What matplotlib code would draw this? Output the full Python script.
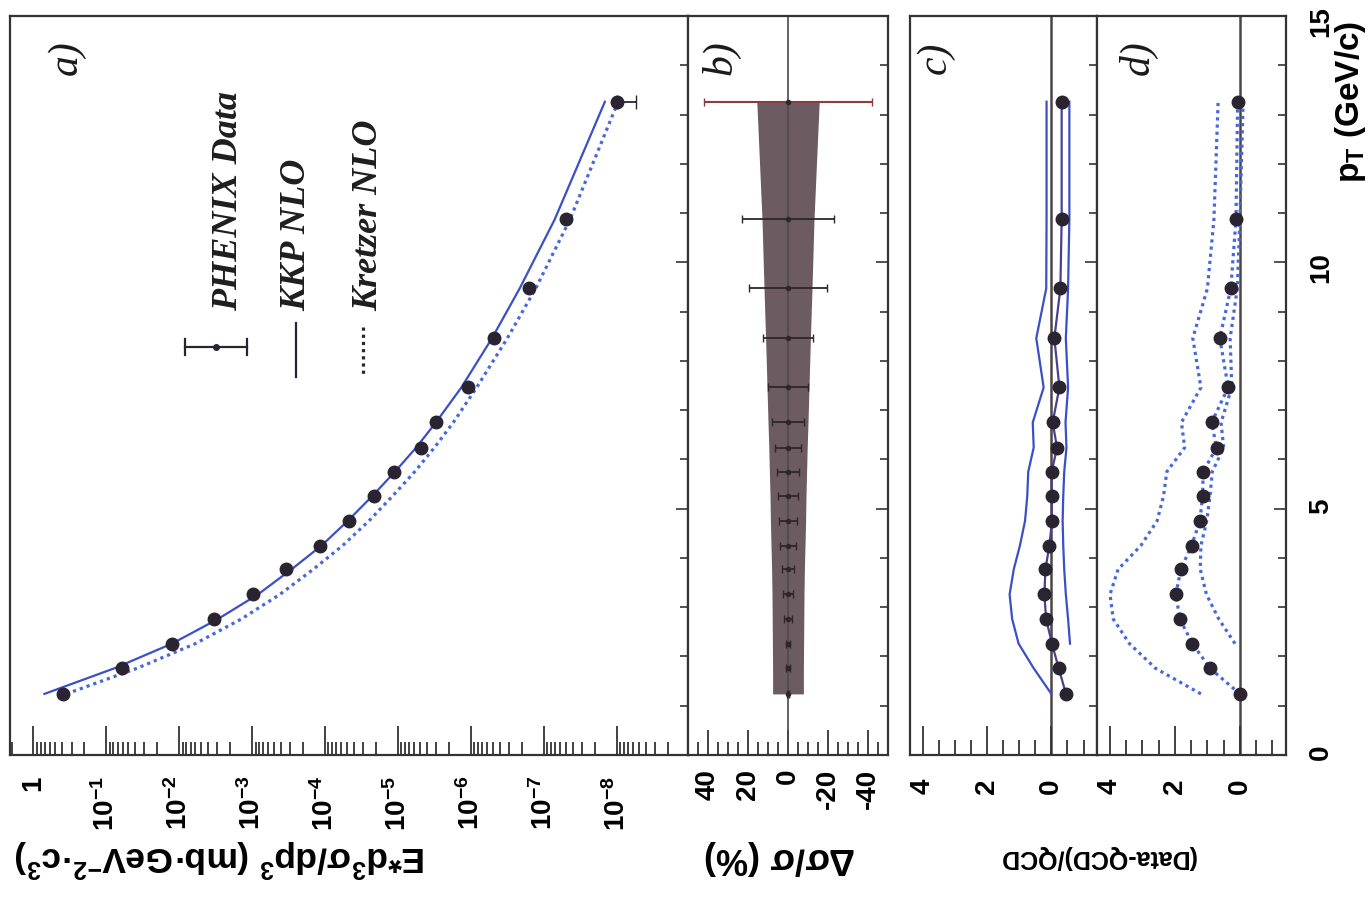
import numpy as np
import matplotlib
matplotlib.use("Agg")
import matplotlib.pyplot as plt
from matplotlib.ticker import (LogLocator, NullFormatter, MultipleLocator,
                               FixedLocator, FuncFormatter)
from matplotlib.lines import Line2D

plt.rcParams['font.family'] = ['Liberation Sans', 'DejaVu Sans']
plt.rcParams['font.weight'] = 'bold'
plt.rcParams['mathtext.fontset'] = 'custom'
plt.rcParams['mathtext.rm'] = 'Liberation Sans:bold'
plt.rcParams['mathtext.it'] = 'Liberation Sans:italic:bold'
plt.rcParams['mathtext.bf'] = 'Liberation Sans:bold'
plt.rcParams['mathtext.default'] = 'rm'

# ---------------- data ----------------
pt = [1.24, 1.76, 2.26, 2.76, 3.26, 3.77, 4.25, 4.75, 5.26, 5.75,
      6.24, 6.75, 7.46, 8.46, 9.47, 10.87, 13.26]

# panel a: invariant cross section (mb GeV^-2 c^3)
sigma_data = [3.89e-1, 6.03e-2, 1.24e-2, 3.34e-3, 9.77e-4, 3.43e-4, 1.16e-4,
              4.75e-5, 2.16e-5, 1.13e-5, 4.90e-6, 3.02e-6, 1.08e-6, 4.83e-7,
              1.59e-7, 4.90e-8, 9.84e-9]
sigma_kkp = [7.08e-1, 7.76e-2, 1.26e-2, 2.95e-3, 8.32e-4, 2.88e-4, 1.12e-4,
             4.90e-5, 2.24e-5, 1.10e-5, 5.62e-6, 3.02e-6, 1.35e-6, 5.13e-7,
             2.14e-7, 7.08e-8, 1.45e-8]
sigma_kretzer = [3.55e-1, 3.80e-2, 6.03e-3, 1.41e-3, 4.17e-4, 1.45e-4, 5.75e-5,
                 2.51e-5, 1.18e-5, 5.89e-6, 3.16e-6, 1.74e-6, 8.32e-7, 3.16e-7,
                 1.29e-7, 4.37e-8, 9.55e-9]
last_err_low = 4.4e-9

# panel b: relative errors (%)
sys_err = [7.7, 7.7, 7.8, 7.9, 8.0, 8.2, 8.5, 8.8, 9.0, 9.3, 9.6, 10.0,
           10.5, 11.2, 12.0, 13.0, 15.6]
stat_err = [0.5, 0.8, 1.2, 1.8, 2.5, 3.2, 3.8, 4.5, 5.0, 5.5, 6.5, 8.0,
            9.8, 12.5, 19.6, 22.8, 42.0]

# panel c: (Data-QCD)/QCD with KKP
c_data = [-0.455, -0.227, -0.02, 0.165, 0.217, 0.186, 0.062, -0.02, -0.01,
          -0.01, -0.176, -0.04, -0.25, -0.093, -0.28, -0.32, -0.32]
c_upper = [0.0, 0.55, 1.02, 1.22, 1.30, 1.17, 0.98, 0.82, 0.75, 0.72, 0.55,
           0.58, 0.24, 0.47, 0.16, 0.15, 0.15]
c_lower = [-0.58, -0.52, -0.45, -0.40, -0.37, -0.35, -0.37, -0.40, -0.47,
           -0.44, -0.52, -0.45, -0.52, -0.56, -0.56]

# panel d: (Data-QCD)/QCD with Kretzer
d_data = [0.0, 0.92, 1.46, 1.85, 1.97, 1.82, 1.49, 1.23, 1.15, 1.13, 0.72,
          0.87, 0.36, 0.62, 0.28, 0.12, 0.07]
d_upper = [1.2, 2.6, 3.4, 3.9, 4.0, 3.75, 3.05, 2.55, 2.35, 2.25, 1.7, 1.8,
           1.2, 1.45, 1.0, 0.8, 0.67]
d_lower = [0.15, 0.65, 1.03, 1.22, 1.2, 1.02, 0.92, 0.85, 0.5, 0.58, 0.25,
           0.3, 0.08, 0.0, -0.1]

a_ticks = [1, 1e-1, 1e-2, 1e-3, 1e-4, 1e-5, 1e-6, 1e-7, 1e-8]
b_ticks = [40, 20, 0, -20, -40]
cd_ticks = [4, 2, 0]
pt_ticks = [0, 5, 10, 15]

# ---------------- styling ----------------
W, H = 1368, 899
BLUE = '#3b4fc6'
BLUE_DOT = '#4768d8'
DARK = '#2a2430'
FRAME = '#333333'
DOTS = (0, (1.0, 1.25))

fig = plt.figure(figsize=(W / 100, H / 100), dpi=100)


def box(x0, x1, y0=16, y1=755):
    return [x0 / W, 1 - y1 / H, (x1 - x0) / W, (y1 - y0) / H]


def fpx(x, y):
    return x / W, 1 - y / H


ax_a = fig.add_axes(box(10, 688))
ax_b = fig.add_axes(box(688, 888))
ax_c = fig.add_axes(box(910, 1097))
ax_d = fig.add_axes(box(1097, 1286))

for ax in (ax_a, ax_b, ax_c, ax_d):
    ax.set_ylim(0, 15)
    for s in ax.spines.values():
        s.set_color(FRAME)
        s.set_linewidth(1.6)
    ax.yaxis.set_major_locator(FixedLocator(pt_ticks))
    ax.yaxis.set_minor_locator(MultipleLocator(1))
    ax.tick_params(axis='y', which='both', direction='in', left=False,
                   right=True, labelleft=False, labelright=False,
                   color=FRAME, width=1.2)
    ax.tick_params(axis='y', which='major', length=9)
    ax.tick_params(axis='y', which='minor', length=6)
    ax.tick_params(axis='x', which='both', direction='in', top=False,
                   bottom=True, color=FRAME, width=1.3, labelrotation=90,
                   labelsize=20)

# ---------------- panel a ----------------
ax_a.set_xscale('log')
ax_a.set_xlim(2.1, 1.05e-9)
ax_a.xaxis.set_major_locator(FixedLocator(a_ticks))
ax_a.xaxis.set_major_formatter(FuncFormatter(
    lambda v, p: '1' if abs(v - 1) < 1e-9 else r'$10^{%d}$' % round(np.log10(v))))
ax_a.xaxis.set_minor_locator(LogLocator(base=10, subs=np.arange(2, 10), numticks=20))
ax_a.xaxis.set_minor_formatter(NullFormatter())
ax_a.tick_params(axis='x', which='major', length=21, pad=15)
ax_a.tick_params(axis='x', which='minor', length=9.5)

ax_a.plot(sigma_kkp, pt, color=BLUE, lw=1.6, zorder=3)
ax_a.plot(sigma_kretzer, pt, color=BLUE_DOT, lw=2.3, ls=DOTS, zorder=3)
ax_a.plot(sigma_data, pt, 'o', color=DARK, ms=9, zorder=4)
ax_a.errorbar([sigma_data[-1]], [pt[-1]], xerr=[[last_err_low], [0]],
              fmt='none', ecolor=DARK, elinewidth=1.3, capsize=5, zorder=3)

# legend (drawn by hand, rotated like the figure)
tr = fig.transFigure
x0, y0 = fpx(185, 347)
x1, y1 = fpx(247, 347)
fig.add_artist(Line2D([x0, x1], [y0, y1], transform=tr, color=DARK, lw=1.6))
for xx in (185, 247):
    a0, b0 = fpx(xx, 339)
    a1, b1 = fpx(xx, 355)
    fig.add_artist(Line2D([a0, a1], [b0, b1], transform=tr, color=DARK, lw=1.6))
mx, my = fpx(216, 347)
fig.add_artist(Line2D([mx], [my], transform=tr, marker='o', ms=4, color=DARK))
a0, b0 = fpx(296, 323)
a1, b1 = fpx(296, 377)
fig.add_artist(Line2D([a0, a1], [b0, b1], transform=tr, color=DARK, lw=1.6))
a0, b0 = fpx(363, 327)
a1, b1 = fpx(363, 377)
fig.add_artist(Line2D([a0, a1], [b0, b1], transform=tr, color=DARK, lw=2.3, ls=DOTS))

leg_kw = dict(rotation=90, ha='center', va='bottom', family='Liberation Serif',
              style='italic', weight='bold', fontsize=26, color='#1e1e1e')
fig.text(*fpx(229, 311), 'PHENIX Data', **leg_kw)
fig.text(*fpx(297, 311), 'KKP NLO', **leg_kw)
fig.text(*fpx(369, 311), 'Kretzer NLO', **leg_kw)

# ---------------- panel b ----------------
ax_b.set_xlim(50, -50)
ax_b.xaxis.set_major_locator(FixedLocator(b_ticks))
ax_b.xaxis.set_minor_locator(MultipleLocator(5))
ax_b.xaxis.set_major_formatter(FuncFormatter(lambda v, p: '%d' % v))
ax_b.tick_params(axis='x', which='major', length=18, pad=10)
ax_b.tick_params(axis='x', which='minor', length=9.5)
sys_arr = np.array(sys_err)
ax_b.fill_betweenx(pt, -sys_arr, sys_arr, color='#6c5c61', lw=0, zorder=1)
ax_b.axvline(0, color='#4a4a4a', lw=1.2, zorder=2)
zeros = np.zeros(len(pt))
ax_b.errorbar(zeros[:-1], pt[:-1], xerr=stat_err[:-1], fmt='o', ms=3,
              color='#2e2628', ecolor='#2e2628', elinewidth=1.3, capsize=3,
              zorder=3)
ax_b.errorbar(zeros[-1:], pt[-1:], xerr=stat_err[-1:], fmt='o', ms=3,
              color='#2e2628', ecolor='#8e3a42', elinewidth=1.5, capsize=3,
              zorder=3)

# ---------------- panels c and d ----------------
for ax in (ax_c, ax_d):
    ax.set_xlim(4.4, -1.42)
    ax.xaxis.set_major_locator(FixedLocator(cd_ticks))
    ax.xaxis.set_minor_locator(MultipleLocator(0.5))
    ax.xaxis.set_major_formatter(FuncFormatter(lambda v, p: '%d' % v))
    ax.tick_params(axis='x', which='major', length=21, pad=17)
    ax.tick_params(axis='x', which='minor', length=11)
    ax.axvline(0, color='#4d4545', lw=1.8, zorder=1)

ax_c.plot(c_upper, pt, color=BLUE, lw=1.6, zorder=2)
ax_c.plot(c_lower, pt[2:], color=BLUE, lw=1.6, zorder=2)
ax_c.plot(c_data, pt, color='#4a3f90', lw=1.6, zorder=3)
ax_c.plot(c_data, pt, 'o', color=DARK, ms=9, zorder=4)

ax_d.plot(d_upper, pt, color=BLUE_DOT, lw=2.3, ls=DOTS, zorder=2)
ax_d.plot(d_lower, pt[2:], color=BLUE_DOT, lw=2.3, ls=DOTS, zorder=2)
ax_d.plot(d_data, pt, color=BLUE_DOT, lw=2.3, ls=DOTS, zorder=3)
ax_d.plot(d_data, pt, 'o', color=DARK, ms=9, zorder=4)

ax_d.tick_params(axis='y', which='major', labelright=True, labelrotation=90,
                 labelsize=20, pad=16)

# ---------------- panel tags and axis titles ----------------
tag_kw = dict(rotation=90, ha='center', va='center', family='Liberation Serif',
              style='italic', fontsize=30, weight='normal', color='#1a1a1a')
fig.text(*fpx(67, 58), 'a)', **tag_kw)
fig.text(*fpx(721, 58), 'b)', **tag_kw)
fig.text(*fpx(935, 58), 'c)', **tag_kw)
fig.text(*fpx(1138, 58), 'd)', **tag_kw)

fig.text(*fpx(220, 858), r'E*d$^3\sigma$/dp$^3$ (mb·GeV$^{-2}$·c$^3$)',
         rotation=180, ha='center', va='center', fontsize=25.5)
fig.text(*fpx(780, 858), r'$\Delta\sigma/\sigma$ (%)', rotation=180,
         ha='center', va='center', fontsize=26)
fig.text(*fpx(1097, 857), '(Data-QCD)/QCD', rotation=180, ha='center',
         va='center', fontsize=18)
fig.text(*fpx(1350, 102), r'p$_{T}$ (GeV/c)', rotation=90, ha='center',
         va='center', fontsize=24)

fig.savefig('out.png', dpi=100)
